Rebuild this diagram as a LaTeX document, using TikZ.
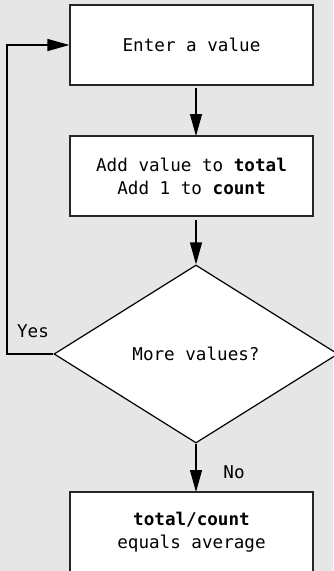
\documentclass[tikz,border=0pt]{standalone}
\usepackage{fontspec}
\setmonofont{DejaVu Sans Mono}
\usetikzlibrary{shapes.geometric,arrows.meta}
\definecolor{bg}{HTML}{E6E6E6}
\tikzset{
  box/.style={draw=black!85, line width=1.2pt, fill=white, minimum width=243pt, minimum height=80pt, inner sep=0pt, align=center, font=\ttfamily\fontsize{17.6pt}{23pt}\selectfont},
  dec/.style={draw=black, line width=1.2pt, fill=white, diamond, minimum width=284pt, minimum height=178pt, inner sep=0pt, font=\ttfamily\fontsize{17.6pt}{23pt}\selectfont},
  conn/.style={draw=black, line width=1.2pt, -{Triangle[length=22pt,width=12pt]}},
  lbl/.style={font=\ttfamily\fontsize{17.6pt}{23pt}\selectfont},
}
\begin{document}
\begin{tikzpicture}[x=1pt,y=-1pt]
\fill[bg] (0,0) rectangle (333,571);
\useasboundingbox (0,0) rectangle (333,571);
\node[box] (b1) at (191.5,45) {Enter a value};
\node[box] (b2) at (191.5,176) {Add value to \textbf{total}\\Add 1 to \textbf{count}};
\node[dec] (d) at (196,354) {More values?};
\node[box] (b3) at (191.5,532) {\textbf{total/count}\\equals average};
\coordinate (c1) at (7,354);
\draw[conn, shorten <=3pt] (196,85) -- (196,136);
\draw[conn, shorten <=4pt] (196,216) -- (d.north);
\draw[conn] (d.south) -- (196,492);
\draw[conn] (d.west) -- (c1) |- (b1.west);
\node[lbl] (yes) at (33,331) {Yes};
\node[lbl] (no) at (234,472) {No};
\end{tikzpicture}
\end{document}
